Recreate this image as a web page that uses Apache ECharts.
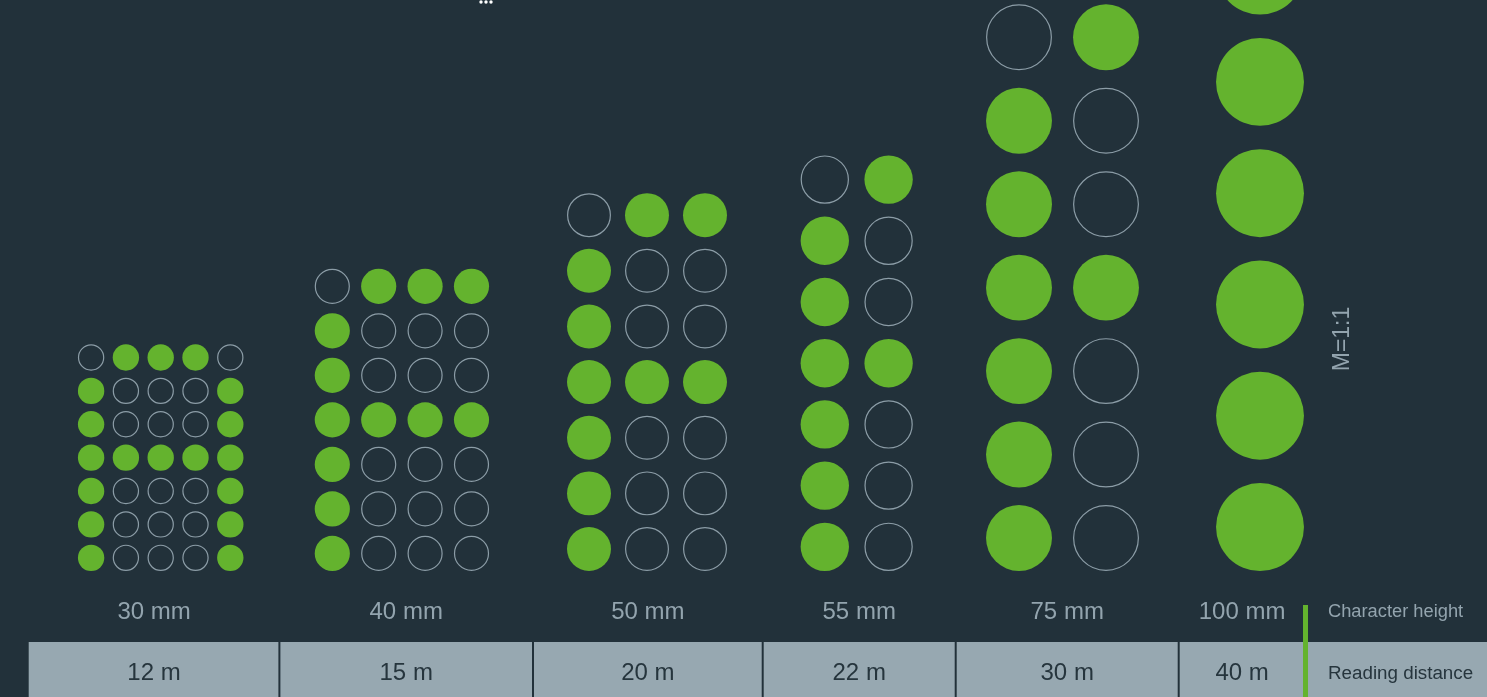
<!DOCTYPE html>
<html><head><meta charset="utf-8">
<script src="https://cdn.jsdelivr.net/npm/echarts@6/dist/echarts.min.js"></script>
<style>html,body{margin:0;padding:0;background:#22313a;overflow:hidden}#c{width:1487px;height:697px}</style>
</head><body><div id="c"></div>
<script>
// ---- data ----
const charHeights = [30, 40, 50, 55, 75, 100];          // mm
const heightLabels = ['30 mm', '40 mm', '50 mm', '55 mm', '75 mm', '100 mm'];
const readingDistances = ['12 m', '15 m', '20 m', '22 m', '30 m', '40 m'];
const visibleColumns = [5, 4, 3, 2, 2, 1];
const letterA = ['01110', '10001', '10001', '11111', '10001', '10001', '10001'];
const rowLabels = ['Character height', 'Reading distance'];
const scaleLabel = 'M=1:1';

// ---- layout ----
const W = 1487, H = 697;
const baseY = 571;
const pxPerMmY = 7.79, pxPerMmX = 8.12;
const dotRatio = 0.79;                 // diameter / pitch
const cellEdges = [28.7, 279.4, 533, 762.7, 955.7, 1178.7, 1305.5];
const groupCentersPx = [160.7, 401.9, 647, 856.7, 1062.5, 1260];
const BG = '#22313a', GREEN = '#64b32e', RING = '#8c9da7', LIGHT = '#97a8b1', DARK = '#26353d', LABEL = '#93a4ae';
const FONT = '"Liberation Sans", Arial, Helvetica, sans-serif';

const dots = [];
charHeights.forEach((h, g) => {
  const pitch = h / 7;
  const r = pitch * dotRatio / 2;
  const n = visibleColumns[g];
  const cx = groupCentersPx[g] / pxPerMmX;
  for (let row = 0; row < 7; row++) {
    const y = r + (6 - row) * pitch;
    for (let c = 0; c < n; c++) {
      const x = cx + (c - (n - 1) / 2) * pitch;
      dots.push([x, y, r, letterA[row][c] === '1' ? 1 : 0]);
    }
  }
});

const graphic = [];
graphic.push({type: 'rect', shape: {x: cellEdges[0], y: 642, width: W - cellEdges[0], height: H - 642}, style: {fill: LIGHT}, z: 1});
for (let i = 1; i < cellEdges.length - 1; i++) {
  graphic.push({type: 'rect', shape: {x: cellEdges[i] - 1, y: 642, width: 2, height: H - 642}, style: {fill: BG}, z: 2});
}
graphic.push({type: 'rect', shape: {x: 1303, y: 605, width: 5, height: H - 605}, style: {fill: GREEN}, z: 3});
heightLabels.forEach((t, i) => {
  const cx = (cellEdges[i] + cellEdges[i + 1]) / 2;
  graphic.push({type: 'text', x: cx, y: 612, style: {text: t, fill: LABEL, font: '24px ' + FONT, textAlign: 'center', textVerticalAlign: 'middle'}, z: 4});
  graphic.push({type: 'text', x: cx, y: 673, style: {text: readingDistances[i], fill: DARK, font: '24px ' + FONT, textAlign: 'center', textVerticalAlign: 'middle'}, z: 4});
});
graphic.push({type: 'text', x: 1328, y: 612, style: {text: rowLabels[0], fill: LABEL, font: '18.3px ' + FONT, textAlign: 'left', textVerticalAlign: 'middle'}, z: 4});
graphic.push({type: 'text', x: 1328, y: 674, style: {text: rowLabels[1], fill: DARK, font: '18.8px ' + FONT, textAlign: 'left', textVerticalAlign: 'middle'}, z: 4});
graphic.push({type: 'text', x: 1343, y: 339, rotation: Math.PI / 2, style: {text: scaleLabel, fill: LABEL, font: '23px ' + FONT, textAlign: 'center', textVerticalAlign: 'middle'}, z: 4});
[481, 486, 491].forEach(x => graphic.push({type: 'circle', shape: {cx: x, cy: 2, r: 1.7}, style: {fill: '#ffffff'}, z: 4}));

const chart = echarts.init(document.getElementById('c'), null, {renderer: 'canvas'});
chart.setOption({
  backgroundColor: BG,
  animation: false,
  grid: {left: 0, right: 0, top: 0, bottom: H - baseY},
  xAxis: {type: 'value', min: 0, max: W / pxPerMmX, show: false},
  yAxis: {type: 'value', min: 0, max: baseY / pxPerMmY, show: false},
  graphic: graphic,
  series: [{
    type: 'custom',
    clip: false,
    data: dots,
    renderItem: function (params, api) {
      const p = api.coord([api.value(0), api.value(1)]);
      const s = api.size([api.value(2), api.value(2)]);
      const r = s[1];
      const filled = api.value(3) === 1;
      return {
        type: 'circle',
        shape: {cx: p[0], cy: p[1], r: filled ? r : r - 0.6},
        style: filled ? {fill: GREEN} : {fill: 'none', stroke: RING, lineWidth: 1.2}
      };
    }
  }]
});
</script></body></html>
